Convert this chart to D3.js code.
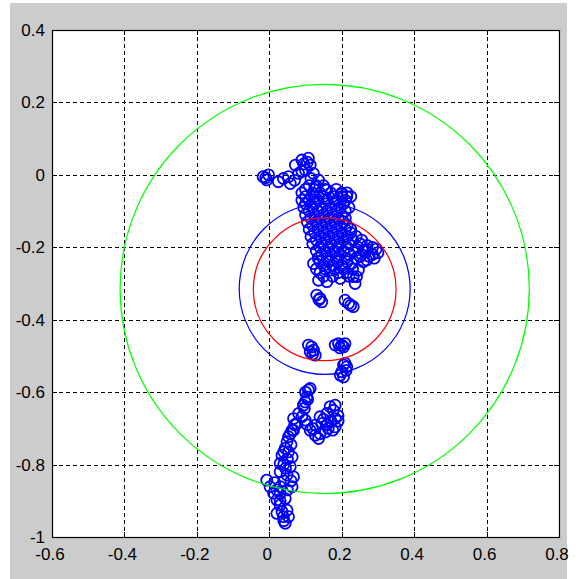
<!DOCTYPE html>
<html>
<head>
<meta charset="utf-8">
<script src="https://cdn.jsdelivr.net/npm/d3@7"></script>
<style>
    body { margin: 0; background: #ffffff; }
    .tick-label { font-family: 'Liberation Sans', Arial, sans-serif; font-size: 17px; fill: #000; }
</style>
</head>
<body>
<script>
// axis ticks
var xTicks = [-0.6, -0.4, -0.2, 0, 0.2, 0.4, 0.6, 0.8];
var yTicks = [0.4, 0.2, 0, -0.2, -0.4, -0.6, -0.8, -1];
var xTickLabels = ['-0.6', '-0.4', '-0.2', '0', '0.2', '0.4', '0.6', '0.8'];
var yTickLabels = ['0.4', '0.2', '0', '-0.2', '-0.4', '-0.6', '-0.8', '-1'];

// circles: [centerX, centerY, radius, color]
var rings = [
    [0.153, -0.315, 0.565, '#00ff00'],
    [0.153, -0.315, 0.236, '#0000ff'],
    [0.153, -0.316, 0.197, '#ff0000']
];

// trajectory points
var trajectory = [
    // top left group
    [-0.017, -0.005], [-0.007, -0.014], [-0.002, 0.0], [-0.01, -0.008],
    [0.025, -0.019], [0.039, -0.01], [0.053, -0.005], [0.058, -0.024],
    [0.072, 0.027], [0.09, 0.041], [0.108, 0.046], [0.113, 0.027],
    [0.1, 0.013], [0.122, 0.004], [0.081, 0.004], [0.136, -0.014],
    [0.127, -0.033], [0.159, -0.042], [0.214, -0.06], [0.2, -0.053],
    [0.095, 0.03], [0.105, 0.035], [0.09, 0.01], [0.115, -0.01], [0.07, -0.015],
    // main body
    [0.11, -0.03], [0.13, -0.03], [0.15, -0.03],
    [0.09, -0.05], [0.12, -0.05], [0.14, -0.05], [0.17, -0.05], [0.2, -0.05], [0.215, -0.05],
    [0.09, -0.07], [0.11, -0.07], [0.135, -0.07], [0.16, -0.07], [0.185, -0.07], [0.21, -0.07],
    [0.095, -0.09], [0.12, -0.09], [0.145, -0.09], [0.17, -0.09], [0.195, -0.09], [0.22, -0.09],
    [0.1, -0.11], [0.125, -0.11], [0.15, -0.11], [0.175, -0.11], [0.2, -0.11],
    [0.105, -0.13], [0.13, -0.13], [0.155, -0.13], [0.18, -0.13], [0.205, -0.13],
    [0.11, -0.15], [0.135, -0.15], [0.16, -0.15], [0.185, -0.15], [0.21, -0.15], [0.225, -0.15],
    [0.115, -0.17], [0.14, -0.17], [0.165, -0.17], [0.19, -0.17], [0.215, -0.17], [0.24, -0.17],
    [0.12, -0.19], [0.145, -0.19], [0.17, -0.19], [0.195, -0.19], [0.22, -0.19], [0.25, -0.19], [0.27, -0.195],
    [0.13, -0.21], [0.155, -0.21], [0.18, -0.21], [0.205, -0.21], [0.235, -0.21], [0.26, -0.21], [0.285, -0.2],
    [0.135, -0.23], [0.16, -0.23], [0.185, -0.23], [0.21, -0.23], [0.24, -0.23], [0.275, -0.225], [0.3, -0.215],
    [0.122, -0.245], [0.15, -0.25], [0.175, -0.25], [0.2, -0.25], [0.228, -0.245], [0.251, -0.226],
    [0.265, -0.208], [0.269, -0.235], [0.29, -0.23], [0.246, -0.263],
    [0.14, -0.27], [0.168, -0.263], [0.19, -0.27], [0.215, -0.27], [0.232, -0.281],
    [0.136, -0.291], [0.159, -0.295], [0.196, -0.286], [0.241, -0.281], [0.237, -0.3],
    // main body, in-between rows
    [0.1, -0.04], [0.125, -0.04], [0.155, -0.04], [0.185, -0.04],
    [0.1, -0.06], [0.125, -0.06], [0.15, -0.06], [0.175, -0.06], [0.2, -0.06], [0.225, -0.06],
    [0.1, -0.08], [0.125, -0.08], [0.155, -0.08], [0.18, -0.08], [0.205, -0.08],
    [0.11, -0.1], [0.135, -0.1], [0.16, -0.1], [0.185, -0.1], [0.21, -0.1],
    [0.115, -0.12], [0.14, -0.12], [0.165, -0.12], [0.19, -0.12], [0.21, -0.12],
    [0.12, -0.14], [0.145, -0.14], [0.17, -0.14], [0.195, -0.14], [0.215, -0.14],
    [0.125, -0.16], [0.15, -0.16], [0.175, -0.16], [0.2, -0.16], [0.225, -0.16],
    [0.13, -0.18], [0.155, -0.18], [0.18, -0.18], [0.205, -0.18], [0.23, -0.18], [0.255, -0.18],
    [0.14, -0.2], [0.165, -0.2], [0.19, -0.2], [0.215, -0.2], [0.245, -0.2], [0.27, -0.205], [0.295, -0.205],
    [0.145, -0.22], [0.17, -0.22], [0.195, -0.22], [0.22, -0.22], [0.255, -0.22], [0.285, -0.22],
    [0.14, -0.24], [0.165, -0.24], [0.19, -0.24], [0.215, -0.24], [0.26, -0.24],
    [0.13, -0.26], [0.155, -0.26], [0.18, -0.26], [0.205, -0.26], [0.23, -0.26],
    [0.15, -0.28], [0.175, -0.28], [0.22, -0.28],
    // isolated lower blobs
    [0.131, -0.332], [0.14, -0.341], [0.145, -0.351], [0.137, -0.345],
    [0.209, -0.346], [0.219, -0.355], [0.232, -0.364], [0.225, -0.36],
    [0.108, -0.47], [0.113, -0.489], [0.122, -0.484], [0.127, -0.498], [0.117, -0.475], [0.12, -0.495],
    [0.182, -0.47], [0.191, -0.466], [0.2, -0.47], [0.209, -0.466], [0.195, -0.478], [0.205, -0.475],
    [0.209, -0.52], [0.214, -0.53], [0.2, -0.544], [0.196, -0.553], [0.205, -0.558], [0.212, -0.54], [0.205, -0.525],
    // descending tail
    [0.113, -0.59], [0.108, -0.594], [0.104, -0.613], [0.099, -0.627], [0.094, -0.636],
    [0.1, -0.6], [0.106, -0.62], [0.097, -0.645],
    [0.168, -0.64], [0.182, -0.636], [0.177, -0.65], [0.159, -0.659], [0.14, -0.668],
    [0.145, -0.687], [0.127, -0.691], [0.113, -0.705], [0.127, -0.719], [0.136, -0.728],
    [0.14, -0.715], [0.163, -0.7], [0.182, -0.696], [0.182, -0.673], [0.09, -0.668],
    [0.15, -0.675], [0.17, -0.68], [0.19, -0.665], [0.175, -0.705], [0.155, -0.71],
    [0.12, -0.7], [0.105, -0.69], [0.16, -0.69], [0.19, -0.68],
    [0.099, -0.677], [0.081, -0.659], [0.067, -0.673], [0.076, -0.687], [0.063, -0.705],
    [0.07, -0.69], [0.058, -0.715], [0.06, -0.745],
    [0.067, -0.705], [0.053, -0.723], [0.049, -0.737], [0.044, -0.755], [0.053, -0.765],
    [0.04, -0.765], [0.05, -0.785], [0.04, -0.8], [0.045, -0.81],
    [0.035, -0.774], [0.063, -0.779], [0.03, -0.797], [0.058, -0.806], [0.03, -0.82],
    [0.049, -0.829], [0.067, -0.834], [-0.007, -0.843], [0.002, -0.861], [0.03, -0.861],
    [0.06, -0.845], [0.04, -0.845], [0.015, -0.85], [0.05, -0.87], [0.03, -0.88],
    [0.063, -0.861], [0.021, -0.87], [0.012, -0.879], [0.044, -0.894], [0.021, -0.898],
    [0.03, -0.9], [0.035, -0.93], [0.04, -0.955],
    [0.03, -0.912], [0.049, -0.926], [0.021, -0.935], [0.039, -0.944], [0.053, -0.944],
    [0.044, -0.962]
];

var w = 576, h = 579;
var padL = 52, padR = 559, padT = 30, padB = 537;

var svg = d3.select('body')
    .append('svg')
    .attr('width', w)
    .attr('height', h);

// figure background
svg.append('rect')
    .attr('x', 10)
    .attr('y', 3)
    .attr('width', 557)
    .attr('height', 576)
    .style('fill', '#cccccc');

var x = d3.scaleLinear()
    .domain([-0.6, 0.8])
    .range([padL, padR]);
var y = d3.scaleLinear()
    .domain([-1, 0.4])
    .range([padB, padT]);

svg.append('rect')
    .attr('x', padL)
    .attr('y', padT)
    .attr('width', padR - padL)
    .attr('height', padB - padT)
    .style('fill', '#ffffff');

var plot = svg.append('g');

// grid lines
plot.selectAll('.vgrid')
    .data(xTicks.slice(1, -1))
    .enter()
    .append('line')
    .attr('class', 'vgrid')
    .attr('x1', function(d) { return Math.round(x(d)) + 0.5; })
    .attr('x2', function(d) { return Math.round(x(d)) + 0.5; })
    .attr('y1', padT)
    .attr('y2', padB)
    .style('stroke', '#000')
    .style('stroke-dasharray', '4,3');

plot.selectAll('.hgrid')
    .data(yTicks.slice(1, -1))
    .enter()
    .append('line')
    .attr('class', 'hgrid')
    .attr('y1', function(d) { return Math.round(y(d)) + 0.5; })
    .attr('y2', function(d) { return Math.round(y(d)) + 0.5; })
    .attr('x1', padL)
    .attr('x2', padR)
    .style('stroke', '#000')
    .style('stroke-dasharray', '4,3');

// scatter markers
plot.selectAll('.pt')
    .data(trajectory)
    .enter()
    .append('circle')
    .attr('class', 'pt')
    .attr('cx', function(d) { return x(d[0]); })
    .attr('cy', function(d) { return y(d[1]); })
    .attr('r', 5.5)
    .style('fill', 'none')
    .style('stroke', '#0000ff')
    .style('stroke-width', 1.8);

// rings
plot.selectAll('.ring')
    .data(rings)
    .enter()
    .append('ellipse')
    .attr('class', 'ring')
    .attr('cx', function(d) { return x(d[0]); })
    .attr('cy', function(d) { return y(d[1]); })
    .attr('rx', function(d) { return x(d[0] + d[2]) - x(d[0]); })
    .attr('ry', function(d) { return y(d[1] - d[2]) - y(d[1]); })
    .style('fill', 'none')
    .style('stroke', function(d) { return d[3]; })
    .style('stroke-width', 1.2);

// ticks on all four sides
xTicks.forEach(function(t) {
    var px = Math.round(x(t)) + 0.5;
    plot.append('line').attr('x1', px).attr('x2', px).attr('y1', padB).attr('y2', padB - 5).style('stroke', '#000');
    plot.append('line').attr('x1', px).attr('x2', px).attr('y1', padT).attr('y2', padT + 5).style('stroke', '#000');
});
yTicks.forEach(function(t) {
    var py = Math.round(y(t)) + 0.5;
    plot.append('line').attr('y1', py).attr('y2', py).attr('x1', padL).attr('x2', padL + 5).style('stroke', '#000');
    plot.append('line').attr('y1', py).attr('y2', py).attr('x1', padR).attr('x2', padR - 5).style('stroke', '#000');
});

// axes box
svg.append('rect')
    .attr('x', padL + 0.5)
    .attr('y', padT + 0.5)
    .attr('width', padR - padL)
    .attr('height', padB - padT)
    .style('fill', 'none')
    .style('stroke', '#000')
    .style('stroke-width', 1.2);

// tick labels
svg.selectAll('.xlab')
    .data(xTicks)
    .enter()
    .append('text')
    .attr('class', 'tick-label xlab')
    .attr('text-anchor', 'middle')
    .attr('x', function(d) { return x(d) - 2; })
    .attr('y', 560)
    .text(function(d, i) { return xTickLabels[i]; });

svg.selectAll('.ylab')
    .data(yTicks)
    .enter()
    .append('text')
    .attr('class', 'tick-label ylab')
    .attr('text-anchor', 'end')
    .attr('x', 45)
    .attr('y', function(d) { return y(d) + 6; })
    .text(function(d, i) { return yTickLabels[i]; });
</script>
</body>
</html>
